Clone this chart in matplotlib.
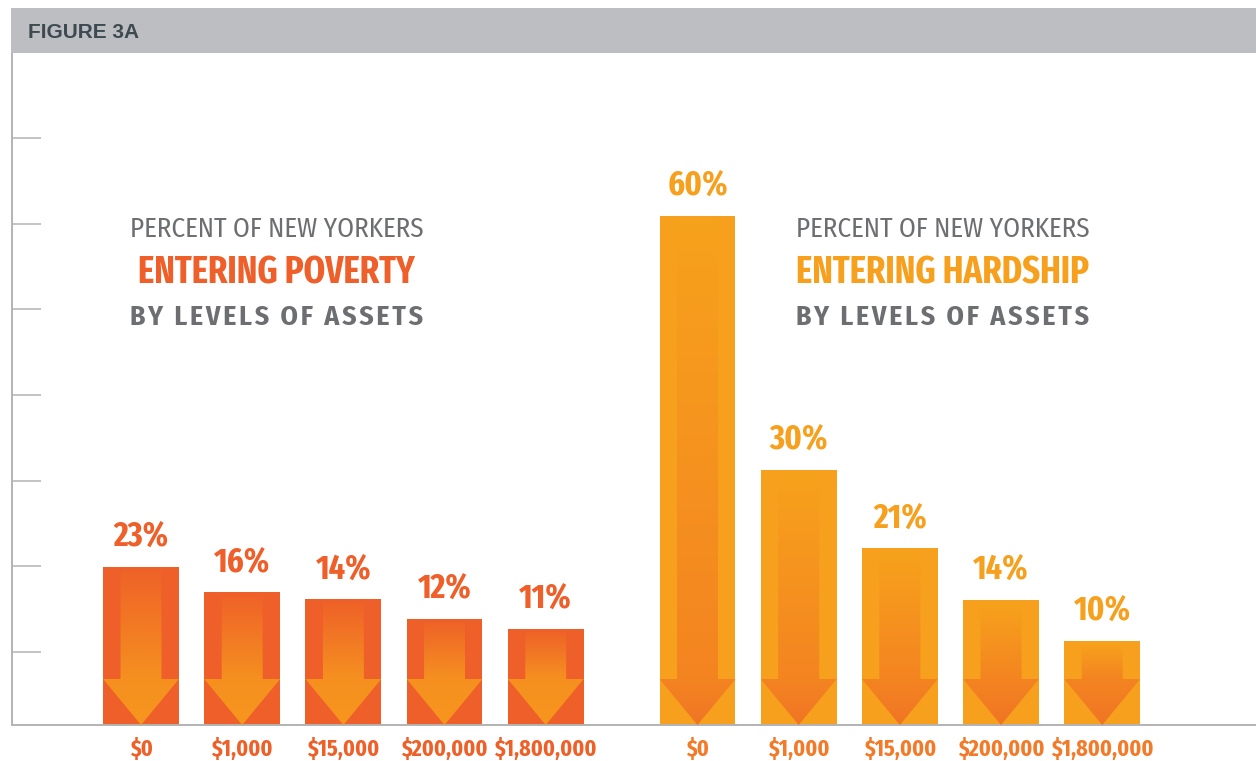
import matplotlib
matplotlib.use("Agg")
import matplotlib.pyplot as plt
import numpy as np
from matplotlib.patches import Polygon, Rectangle
from matplotlib.colors import LinearSegmentedColormap

# ---------------- data ----------------
asset_levels = ['$0', '$1,000', '$15,000', '$200,000', '$1,800,000']
poverty_labels = ['23%', '16%', '14%', '12%', '11%']
poverty_heights = [18.6, 15.6, 14.8, 12.5, 11.3]
hardship_labels = ['60%', '30%', '21%', '14%', '10%']
hardship_heights = [59.9, 30.0, 20.8, 14.7, 9.9]
tick_positions = [8.6, 18.65, 28.7, 38.8, 48.9, 58.95, 69.05]

COND = dict(family=['Fira Sans Extra Condensed', 'DejaVu Sans'])
COND_L = dict(family=['Fira Sans Condensed', 'DejaVu Sans'])
BOLD = dict(family=['Liberation Sans', 'DejaVu Sans'])

RED = '#ee5f29'
ORANGE = '#f6a01d'
GREY_TXT = '#6d6e71'

W, H = 1256, 761
PX = 8.5  # pixels per percentage point
fig = plt.figure(figsize=(W / 100, H / 100), dpi=100)
fig.patch.set_facecolor('white')

# header band
fig.patches.append(Rectangle((11 / W, 1 - 53 / H), 1 - 11 / W, 45 / H,
                             transform=fig.transFigure, facecolor='#bdbec1',
                             edgecolor='none', zorder=0))
fig.text(28 / W, 1 - 38 / H, 'FIGURE 3A', color='#3e4a52', fontsize=15,
         fontweight='bold', va='baseline', ha='left', **BOLD)

ax = fig.add_axes([11.5 / W, 36 / H, 1 - 11.5 / W, (725 - 53) / H])
for s in ('top', 'right'):
    ax.spines[s].set_visible(False)
for s in ('left', 'bottom'):
    ax.spines[s].set_color('#b3b3b3')
    ax.spines[s].set_linewidth(1.4)
ax.set_yticks(tick_positions)
ax.set_yticklabels([])
ax.tick_params(axis='y', direction='in', length=21, width=1.1, colors='#b3b3b3')
ax.set_xticks([])

pos_left = np.arange(5)
pos_right = np.arange(5) + 5.5
bw = 0.75
head_h = 46 / PX
shaft_frac = 0.54


def draw_group(positions, heights, labels, bar_col, grad_top, grad_mid, grad_bot, lab_col, xlab_col):
    bars = ax.bar(positions, heights, width=bw, color=bar_col, zorder=2)
    cmap = LinearSegmentedColormap.from_list('g', [(0, grad_top), (0.8, grad_mid), (1, grad_bot)])
    for rect, lab, xl in zip(bars, labels, asset_levels):
        x0 = rect.get_x()
        w = rect.get_width()
        h = rect.get_height()
        cx = x0 + w / 2
        sw = w * shaft_frac / 2
        top = h - 0.35
        verts = [(cx - sw, top), (cx + sw, top), (cx + sw, head_h), (x0 + w, head_h),
                 (cx, 0), (x0, head_h), (cx - sw, head_h)]
        poly = Polygon(verts, closed=True, facecolor='none', edgecolor='none')
        ax.add_patch(poly)
        ys = np.linspace(top, 0, 400)
        g = np.where(ys > head_h, 0.8 * (top - ys) / max(top - head_h, 1e-6),
                     0.8 + 0.2 * (head_h - ys) / head_h).reshape(-1, 1)
        im = ax.imshow(g, extent=(x0, x0 + w, 0, top), aspect='auto', cmap=cmap,
                       vmin=0, vmax=1, origin='upper', zorder=3, interpolation='bilinear')
        im.set_clip_path(poly)
        ax.annotate(lab, (cx, h), xytext=(0, 15), textcoords='offset points',
                    ha='center', va='baseline', fontsize=25, fontweight='bold',
                    color=lab_col, **COND)
        ax.annotate(xl, (cx, 0), xytext=(0, -22.3), textcoords='offset points',
                    ha='center', va='baseline', fontsize=17, fontweight='bold',
                    color=xlab_col, annotation_clip=False, **COND)


draw_group(pos_left, poverty_heights, poverty_labels, RED, '#ef6228', '#f59020', '#f7961d', RED, '#ef6029')
draw_group(pos_right, hardship_heights, hardship_labels, ORANGE, '#f7a21c', '#f48421', '#f07524', ORANGE, '#f37a29')
ax.set_xlim(-1.28, 11.02)
ax.set_ylim(0, (725 - 53) / PX)


def title_block(xc, mid_text, mid_col):
    ax.text(xc, (725 - 237) / PX, 'PERCENT OF NEW YORKERS', ha='center', va='baseline',
            fontsize=19.5, fontweight='normal', color=GREY_TXT, **COND_L)
    ax.text(xc, (725 - 283) / PX, mid_text, ha='center', va='baseline',
            fontsize=27, fontweight='bold', color=mid_col, **COND)
    spaced = '\u200a \u200a'.join('\u200a'.join(word) for word in 'BY LEVELS OF ASSETS'.split(' '))
    ax.text(xc, (725 - 325) / PX, spaced, ha='center', va='baseline',
            fontsize=20, fontweight='bold', color=GREY_TXT, **COND_L)


title_block(1.34, 'ENTERING POVERTY', RED)
title_block(7.92, 'ENTERING HARDSHIP', ORANGE)

fig.savefig('out.png', dpi=100)
